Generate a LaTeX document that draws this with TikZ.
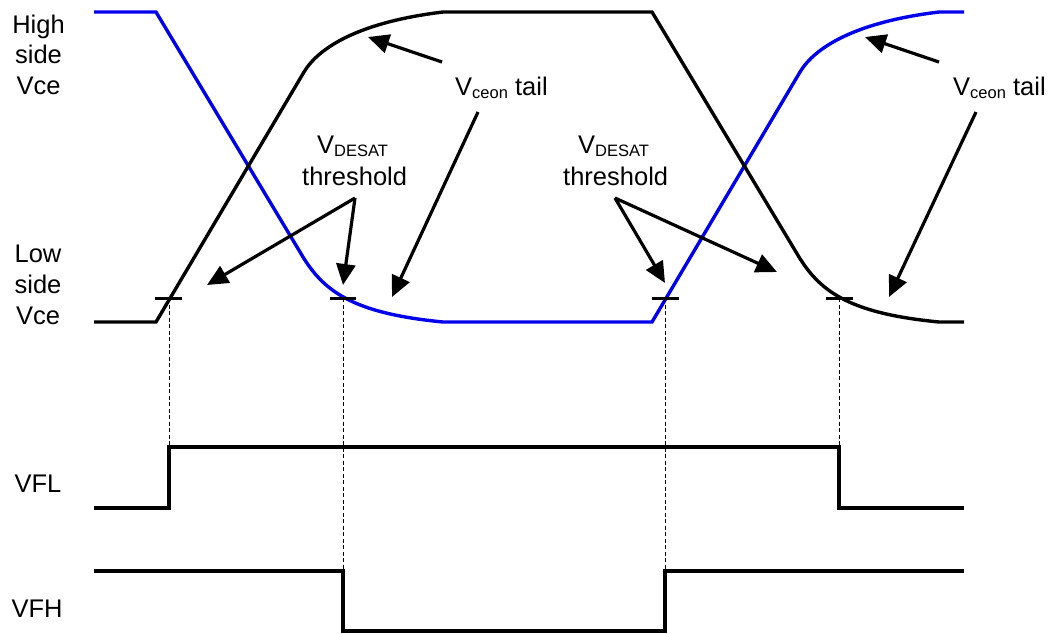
\documentclass[tikz,border=0pt]{standalone}
\usepackage{fontspec}
\setmainfont{Liberation Sans}
\usetikzlibrary{arrows.meta}
\begin{document}
\begin{tikzpicture}[x=1pt,y=-1pt,
  sig/.style={line width=3.4pt, line join=miter},
  dsig/.style={line width=3.4pt, line join=miter},
  bluesig/.style={sig, draw={rgb,255:red,0;green,0;blue,235}},
  tick/.style={line width=3pt},
  guide/.style={line width=1pt, dash pattern=on 4pt off 2.5pt},
  pointer/.style={line width=3.2pt, -{Triangle[length=21pt,width=19pt]}},
  lbl/.style={inner sep=0pt, font=\fontsize{25.5}{31}\selectfont},
]
\useasboundingbox (0,0) rectangle (1051,633);
\newcommand{\subtxt}[1]{\raisebox{-3pt}{\fontsize{16.5}{16.5}\selectfont #1}}

% left labels
\node[lbl, anchor=base] (h1) at (38.5,33) {High};
\node[lbl, anchor=base] (h2) at (38.5,63.5) {side};
\node[lbl, anchor=base] (h3) at (38.5,94) {Vce};
\node[lbl, anchor=base] (l1) at (38,262) {Low};
\node[lbl, anchor=base] (l2) at (38,293) {side};
\node[lbl, anchor=base] (l3) at (38,324) {Vce};
\node[lbl, anchor=base] (vfl) at (38,492) {VFL};
\node[lbl, anchor=base] (vfh) at (37,617) {VFH};

% annotation labels
\node[lbl, anchor=base west] (tail1) at (455,95) {V\subtxt{ceon} tail};
\node[lbl, anchor=base west] (tail2) at (953,95) {V\subtxt{ceon} tail};
\node[lbl, anchor=base west] (des1a) at (317,153) {V\subtxt{DESAT}};
\node[lbl, anchor=base west] (des1b) at (302,185) {threshold};
\node[lbl, anchor=base west] (des2a) at (578,153) {V\subtxt{DESAT}};
\node[lbl, anchor=base west] (des2b) at (563,185) {threshold};

% analog waveforms
\draw[bluesig] (94,12) -- (156,12) -- (300,252)
  .. controls (322,290) and (350,313) .. (443,322) -- (652,322) -- (800,72)
  .. controls (815,47) and (856,22) .. (939,12) -- (964,12);
\draw[sig] (94,322) -- (156,322) -- (304,72)
  .. controls (319,47) and (360,22) .. (443,12) -- (652,12) -- (796,252)
  .. controls (818,290) and (846,313) .. (939,322) -- (964,322);

% threshold ticks
\coordinate (ta) at (169,298);
\coordinate (tb) at (343,298);
\coordinate (tc) at (665,298);
\coordinate (td) at (839,298);
\draw[tick] (155,298) -- (182,298);
\draw[tick] (330,298) -- (356,298);
\draw[tick] (652,298) -- (679,298);
\draw[tick] (826,298) -- (853,298);

% digital waveforms
\coordinate (fa) at (169,447);
\coordinate (fb) at (343,571);
\coordinate (fc) at (665,571);
\coordinate (fd) at (839,447);
\draw[dsig] (94,508) -- (169,508) -- (fa) -- (fd) -- (839,508) -- (964,508);
\draw[dsig] (94,571) -- (fb) -- (343,631) -- (665,631) -- (fc) -- (964,571);

% dashed guides
\draw[guide] (ta) -- (fa);
\draw[guide] (tb) -- (fb);
\draw[guide] (tc) -- (fc);
\draw[guide] (td) -- (fd);

% arrows
\coordinate (a1s) at (442,62);  \coordinate (a1e) at (368,37);
\coordinate (a2s) at (478,112); \coordinate (a2e) at (392,297);
\coordinate (a3s) at (355,198); \coordinate (a3e) at (207,285);
\coordinate (a4e) at (343,285);
\coordinate (a5s) at (615,198); \coordinate (a5e) at (665,283);
\coordinate (a6e) at (777,272);
\coordinate (a7s) at (939,62);  \coordinate (a7e) at (865,37);
\coordinate (a8s) at (976,112); \coordinate (a8e) at (889,297);
\draw[pointer] (a1s) -- (a1e);
\draw[pointer] (a2s) -- (a2e);
\draw[pointer] (a3s) -- (a3e);
\draw[pointer] (a3s) -- (a4e);
\draw[pointer] (a5s) -- (a5e);
\draw[pointer] (a5s) -- (a6e);
\draw[pointer] (a7s) -- (a7e);
\draw[pointer] (a8s) -- (a8e);
\end{tikzpicture}
\end{document}
